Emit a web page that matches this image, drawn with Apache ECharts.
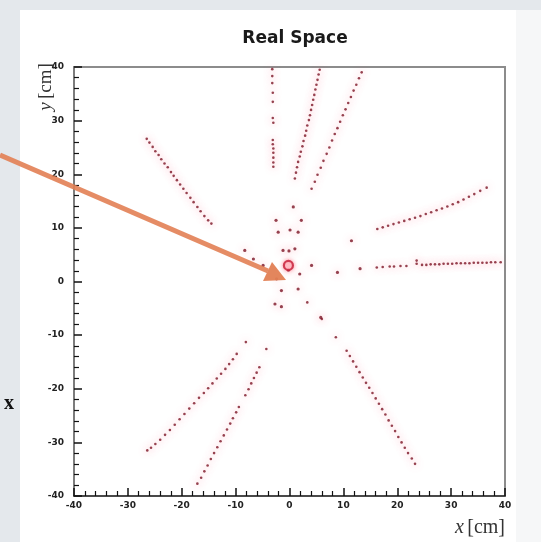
<!DOCTYPE html>
<html><head><meta charset="utf-8">
<script src="https://cdn.jsdelivr.net/npm/echarts@6/dist/echarts.min.js"></script>
<style>html,body{margin:0;padding:0;background:#fff}#c{width:541px;height:542px}</style>
</head><body><div id="c"></div>
<script>
// ---- data (cm) ----
const xTicks = [-40,-30,-20,-10,0,10,20,30,40];
const yTicks = [-40,-30,-20,-10,0,10,20,30,40];
const trackUpperLeft = [[-26.5,26.6],[-26.0,25.9],[-25.4,25.1],[-24.9,24.3],[-24.3,23.6],[-23.8,22.8],[-23.2,22.0],[-22.6,21.3],[-22.0,20.4],[-21.5,19.7],[-20.9,18.9],[-20.3,18.1],[-19.7,17.3],[-19.1,16.5],[-18.4,15.6],[-17.8,14.8],[-17.1,13.9],[-16.5,13.1],[-15.8,12.2],[-15.1,11.4],[-14.5,10.8]];
const trackVertical = [[-3.2,39.6],[-3.2,38.3],[-3.2,37.0],[-3.1,35.2],[-3.1,33.5],[-3.1,30.5],[-3.0,29.6],[-3.1,26.4],[-3.1,25.6],[-3.0,24.8],[-3.0,24.0],[-3.0,23.1],[-3.0,22.2],[-3.0,21.4]];
const trackUp1 = [[5.6,39.5],[5.4,38.6],[5.2,37.6],[5.0,36.7],[4.8,35.8],[4.6,34.8],[4.4,33.9],[4.2,32.9],[4.0,32.0],[3.8,31.0],[3.6,30.1],[3.3,29.1],[3.1,28.1],[2.9,27.2],[2.6,26.2],[2.4,25.2],[2.1,24.2],[1.9,23.3],[1.6,22.3],[1.4,21.3],[1.2,20.3],[1.0,19.2]];
const trackUp2 = [[13.4,39.0],[12.9,37.9],[12.4,36.7],[11.9,35.6],[11.4,34.4],[10.9,33.3],[10.4,32.1],[9.9,31.0],[9.4,29.8],[8.9,28.6],[8.4,27.5],[7.9,26.3],[7.4,25.0],[6.9,23.8],[6.3,22.5],[5.8,21.2],[5.2,19.9],[4.7,18.6],[4.1,17.3]];
const trackRightUp = [[16.3,9.8],[17.3,10.1],[18.3,10.4],[19.3,10.7],[20.3,11.0],[21.3,11.3],[22.3,11.6],[23.3,11.9],[24.3,12.2],[25.3,12.6],[26.3,12.9],[27.3,13.3],[28.3,13.6],[29.3,14.0],[30.3,14.4],[31.3,14.8],[32.3,15.3],[33.3,15.8],[34.3,16.3],[35.4,16.9],[36.6,17.5]];
const trackRightFlat = [[16.2,2.6],[17.3,2.7],[18.6,2.8],[19.4,2.8],[20.6,2.9],[21.7,2.9],[23.6,3.9],[23.6,3.3],[24.6,3.1],[25.4,3.1],[26.2,3.2],[27.0,3.2],[27.8,3.2],[28.6,3.3],[29.4,3.3],[30.2,3.3],[31.0,3.4],[31.8,3.4],[32.6,3.4],[33.4,3.4],[34.2,3.5],[35.0,3.5],[35.8,3.5],[36.6,3.5],[37.4,3.6],[38.2,3.6],[39.2,3.6]];
const trackLowerRight = [[3.3,-3.9],[6.0,-7.0],[8.6,-10.4],[10.6,-12.9],[11.2,-13.9],[11.8,-14.9],[12.4,-15.9],[13.0,-16.9],[13.6,-17.9],[14.2,-18.9],[14.8,-19.8],[15.4,-20.8],[16.0,-21.8],[16.6,-22.8],[17.2,-23.8],[17.8,-24.8],[18.4,-25.9],[19.0,-26.9],[19.6,-27.9],[20.2,-29.0],[20.8,-30.0],[21.4,-31.0],[22.0,-32.0],[22.7,-33.0],[23.3,-34.0]];
const trackLowerLeft1 = [[-8.1,-11.3],[-9.8,-13.5],[-10.5,-14.5],[-11.2,-15.4],[-11.9,-16.3],[-12.7,-17.2],[-13.5,-18.1],[-14.3,-19.0],[-15.1,-19.9],[-15.9,-20.8],[-16.8,-21.7],[-17.7,-22.7],[-18.6,-23.7],[-19.5,-24.7],[-20.4,-25.7],[-21.3,-26.7],[-22.2,-27.7],[-23.1,-28.6],[-24.0,-29.5],[-24.9,-30.3],[-25.7,-31.0],[-26.4,-31.5]];
const trackLowerLeft2 = [[-4.3,-12.6],[-5.6,-16.0],[-6.1,-17.0],[-6.6,-18.0],[-7.1,-19.0],[-7.6,-20.1],[-8.2,-21.2],[-9.4,-23.4],[-9.9,-24.4],[-10.5,-25.5],[-11.0,-26.5],[-11.6,-27.6],[-12.2,-28.7],[-12.8,-29.8],[-13.4,-30.9],[-14.0,-32.0],[-14.6,-33.1],[-15.2,-34.3],[-15.8,-35.4],[-16.4,-36.6],[-17.1,-37.7]];
const centralHits = [[0.7,13.9],[-2.5,11.4],[2.2,11.4],[-2.1,9.2],[0.1,9.6],[1.6,9.2],[-1.2,5.8],[-0.1,5.7],[1.0,6.1],[-8.3,5.8],[-6.7,4.2],[-4.9,3.0],[-0.2,2.1],[4.1,3.0],[1.9,1.4],[8.9,1.7],[13.1,2.4],[11.5,7.6],[-2.4,0.5],[-1.5,-1.7],[1.6,-1.4],[-2.7,-4.2],[-1.5,-4.7],[5.8,-6.7]];
const vertexMark = [[-0.2,3.0]];

const chart = echarts.init(document.getElementById('c'), null, {renderer:'canvas'});
const dot = {color:'#7c1424', shadowColor:'rgba(255,105,130,0.85)', shadowBlur:7};
function trk(d){return {type:'scatter', data:d, symbolSize:2.6, itemStyle:dot, silent:true};}
const axisLbl = {fontFamily:'DejaVu Sans', fontSize:9, color:'#222', fontWeight:'bold'};
chart.setOption({
  backgroundColor:'#ffffff',
  animation:false,
  title:{text:'Real Space', left:290, top:25, textAlign:'center',
    textStyle:{fontFamily:'DejaVu Sans', fontWeight:'bold', fontSize:17, color:'#1a1a1a'}},
  grid:{left:74, right:36, top:67, bottom:46, show:true, borderColor:'#8c8c8c', borderWidth:2, backgroundColor:'#fff'},
  xAxis:{type:'value', min:-40, max:40, interval:10,
    axisLine:{show:true, onZero:false, lineStyle:{color:'#333', width:1.5}},
    axisTick:{inside:true, length:8, lineStyle:{color:'#111', width:1.5}},
    minorTick:{show:true, splitNumber:5, length:5, lineStyle:{color:'#111', width:1.2}},
    splitLine:{show:false},
    axisLabel:Object.assign({margin:5, formatter:v=>xTicks.includes(v)?String(v):''}, axisLbl)},
  yAxis:{type:'value', min:-40, max:40, interval:10,
    axisLine:{show:true, onZero:false, lineStyle:{color:'#777', width:1.5}},
    axisTick:{inside:true, length:8, lineStyle:{color:'#111', width:1.5}},
    minorTick:{show:true, splitNumber:5, length:5, lineStyle:{color:'#111', width:1.2}},
    splitLine:{show:false},
    axisLabel:Object.assign({margin:10, formatter:v=>yTicks.includes(v)?String(v):''}, axisLbl)},
  series:[
    trk(trackUpperLeft), trk(trackVertical), trk(trackUp1), trk(trackUp2),
    trk(trackRightUp), trk(trackRightFlat), trk(trackLowerRight),
    trk(trackLowerLeft1), trk(trackLowerLeft2),
    {type:'scatter', data:centralHits, symbolSize:3.2, itemStyle:dot, silent:true},
    {type:'scatter', data:vertexMark, symbol:'circle', symbolSize:9,
      itemStyle:{color:'rgba(255,215,220,1)', borderColor:'#c41a34', borderWidth:2.2, shadowColor:'rgba(255,100,120,0.8)', shadowBlur:4}, silent:true, z:3}
  ],
  graphic:[
    {type:'rect', shape:{x:0,y:0,width:20,height:542}, style:{fill:'#e4e8ec'}, z:-10},
    {type:'rect', shape:{x:0,y:0,width:541,height:10}, style:{fill:'#e4e8ec'}, z:-10},
    {type:'rect', shape:{x:516,y:10,width:25,height:532}, style:{fill:'#f6f7f8'}, z:-10},
    {type:'text', x:4, y:394, style:{text:'x', font:'bold 20px "Liberation Serif"', fill:'#111'}, z:10},
    {type:'text', x:46, y:87, rotation:Math.PI/2, style:{
      rich:{i:{fontFamily:'Liberation Serif', fontStyle:'italic', fontSize:19, fill:'#333'},
            n:{fontFamily:'Liberation Serif', fontSize:19, fill:'#333'}},
      text:'{i|y} {n|[cm]}', align:'center', verticalAlign:'middle'}, z:10},
    {type:'text', x:505, y:528, style:{
      rich:{i:{fontFamily:'Liberation Serif', fontStyle:'italic', fontSize:20, fill:'#333'},
            n:{fontFamily:'Liberation Serif', fontSize:20, fill:'#333'}},
      text:'{i|x} {n|[cm]}', align:'right', verticalAlign:'middle'}, z:10},
    {type:'polyline', shape:{points:[[0,155],[268,271]]}, style:{stroke:'rgba(226,128,84,0.9)', lineWidth:5}, z:20},
    {type:'polygon', shape:{points:[[286,280],[263,281],[272,262]]}, style:{fill:'rgba(226,128,84,0.95)'}, z:20}
  ]
});
</script></body></html>
